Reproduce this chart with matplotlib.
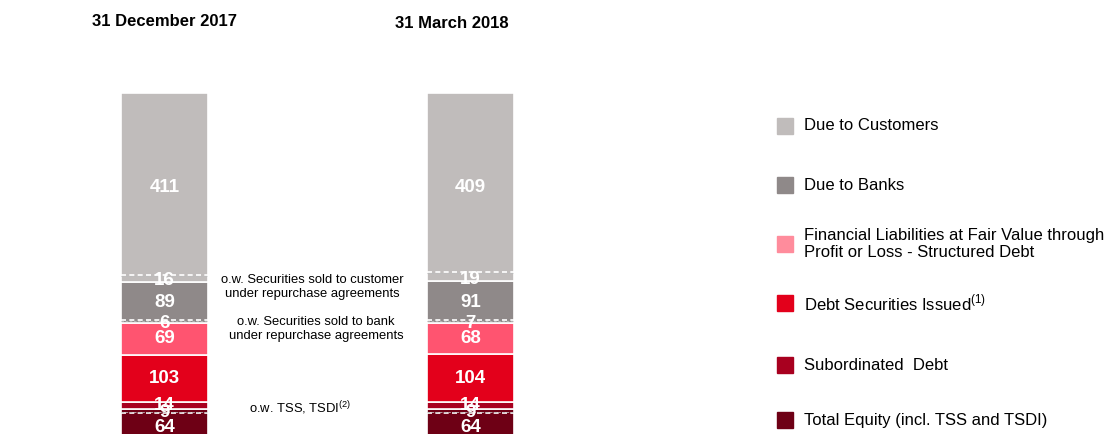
import numpy as np
import matplotlib
matplotlib.use("Agg")
import matplotlib.pyplot as plt
from matplotlib.patches import Rectangle

plt.rcParams['font.family'] = ['Liberation Sans', 'DejaVu Sans']

# data (EUR bn)
categories = ["31 December 2017", "31 March 2018"]
due_customers = [411, 409]
repo_customers = [16, 19]
due_banks = [89, 91]
repo_banks = [6, 7]
fvtpl = [69, 68]
debt_securities = [103, 104]
subordinated = [14, 14]
equity = [64, 64]
tss_tsdi = [9, 9]

legend_labels = ["Due to Customers", "Due to Banks",
                 "Financial Liabilities at Fair Value through\nProfit or Loss - Structured Debt",
                 "Debt Securities Issued$^{\\mathregular{(1)}}$", "Subordinated  Debt",
                 "Total Equity (incl. TSS and TSDI)"]

bar_colors = ["#6E0015", "#A8001F", "#E3001B", "#FF5470", "#8F8989", "#C0BCBB"]
legend_colors = ["#C0BCBB", "#8F8989", "#FF8C9C", "#E3001B", "#A8001F", "#6E0015"]

W, H = 1104, 434
fig = plt.figure(figsize=(W / 100, H / 100), dpi=100)
ax = fig.add_axes([0, 0, 1, 1])
ax.set_xlim(-164.5 / 306, (W - 164.5) / 306)
ax.set_ylim(4 / 0.46, 438 / 0.46)
ax.axis("off")

x = np.arange(len(categories))
width = 87 / 306
stack = [equity, subordinated, debt_securities, fvtpl, due_banks, due_customers]
# the bottom label sits a little low in the original
label_shift = [-9, 0, 0, 0, 0, 0]
bottom = np.zeros(len(categories))
bottoms = []
for vals, col, sh in zip(stack, bar_colors, label_shift):
    vals = np.array(vals)
    ax.bar(x, vals, width, bottom=bottom, color=col, edgecolor="white", linewidth=1.2)
    bottoms.append(bottom.copy())
    for i in range(len(x)):
        ax.text(x[i], bottom[i] + vals[i] / 2 + sh, str(vals[i]), ha="center", va="center",
                color="white", fontsize=13.5, fontweight="bold")
    bottom = bottom + vals

# "of which" sub-pieces with dashed separators
subs = [(repo_customers, bottoms[5], +1), (repo_banks, bottoms[4], +1), (tss_tsdi, bottoms[1], -1)]
for vals, base, sign in subs:
    for i in range(len(x)):
        edge = base[i] + sign * vals[i]
        ax.plot([x[i] - width / 2, x[i] + width / 2], [edge, edge], color="white",
                linestyle=(0, (3, 2)), linewidth=1.2)
        ax.plot([x[i] - width / 2, x[i] + width / 2], [edge - 1.8 * sign, edge - 1.8 * sign],
                color="#BBBBBB", linestyle=(0, (3, 2)), linewidth=0.6)
        ax.text(x[i], base[i] + sign * vals[i] / 2 - 5, str(vals[i]), ha="center", va="center",
                color="white", fontsize=13.5, fontweight="bold")

# titles
def px(xp, yp):
    return xp / W, 1 - yp / H

fig.text(*px(165, 22), categories[0], ha="center", va="center", fontsize=12, fontweight="bold")
fig.text(*px(452, 24), categories[1], ha="center", va="center", fontsize=12, fontweight="bold")

# annotations
fig.text(*px(312, 287), "o.w. Securities sold to customer\nunder repurchase agreements",
         ha="center", va="center", fontsize=9.4, linespacing=1.25)
fig.text(*px(316, 329), "o.w. Securities sold to bank\nunder repurchase agreements",
         ha="center", va="center", fontsize=9.4, linespacing=1.25)
fig.text(*px(300, 408), "o.w. TSS, TSDI$^{\\mathregular{(2)}}$", ha="center", va="center", fontsize=9.4)

# legend
leg_y = [126, 185, 244, 303, 365, 420]
for yy, lab, col in zip(leg_y, legend_labels, legend_colors):
    fig.patches.append(Rectangle(px(777, yy + 8), 16 / W, 16 / H, color=col,
                                 transform=fig.transFigure, figure=fig))
    fig.text(*px(804, yy), lab, ha="left", va="center", fontsize=12, linespacing=1.2)

fig.savefig("out.png", dpi=100)
